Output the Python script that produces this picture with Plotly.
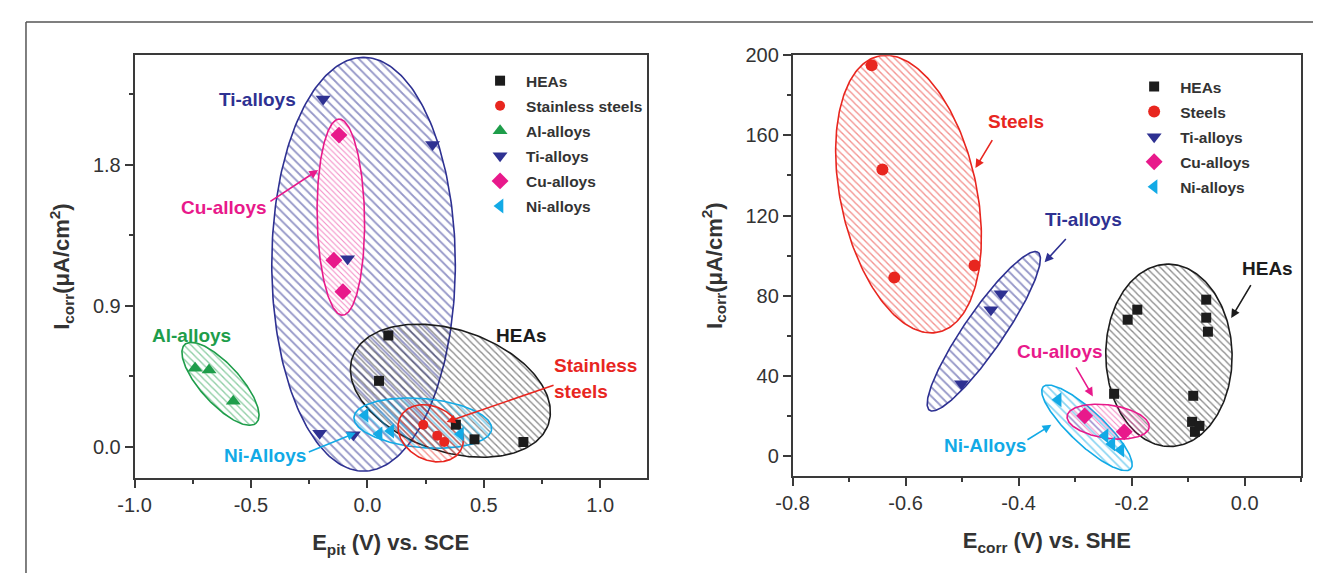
import numpy as np
import plotly.graph_objects as go

OFF = 8  # page body margin: figure is drawn 8 px right/down in the window
W, H = 1321 - 2 * OFF, 581 - 2 * OFF  # figure fits inside the window, no scrolling
FONT = "Liberation Sans, Arial, sans-serif"

# ---------------- data: left panel (E_pit vs SCE) ----------------
left_hea_x = [0.09, 0.05, 0.38, 0.46, 0.67]
left_hea_y = [0.71, 0.42, 0.14, 0.046, 0.03]
left_ss_x = [0.24, 0.30, 0.33]
left_ss_y = [0.14, 0.07, 0.03]
left_al_x = [-0.74, -0.68, -0.576]
left_al_y = [0.50, 0.49, 0.29]
left_ti_x = [-0.19, 0.28, -0.085, -0.205, -0.06]
left_ti_y = [2.22, 1.93, 1.20, 0.085, 0.075]
left_cu_x = [-0.122, -0.144, -0.105]
left_cu_y = [1.99, 1.19, 0.99]
left_ni_x = [-0.01, 0.05, 0.10, 0.40]
left_ni_y = [0.20, 0.08, 0.10, 0.08]

left_xticks = [-1.0, -0.5, 0.0, 0.5, 1.0]
left_xticktext = ["-1.0", "-0.5", "0.0", "0.5", "1.0"]
left_yticks = [0.0, 0.9, 1.8]
left_yticktext = ["0.0", "0.9", "1.8"]

# ---------------- data: right panel (E_corr vs SHE) ----------------
right_hea_x = [-0.190, -0.207, -0.068, -0.068, -0.065, -0.231, -0.091, -0.093, -0.088, -0.080]
right_hea_y = [73, 68, 78, 69, 62, 31, 30, 17, 12, 15]
right_st_x = [-0.660, -0.641, -0.620, -0.478]
right_st_y = [195, 143, 89, 95]
right_ti_x = [-0.431, -0.449, -0.501]
right_ti_y = [81, 73, 36]
right_cu_x = [-0.283, -0.213]
right_cu_y = [20, 12]
right_ni_x = [-0.330, -0.247, -0.235, -0.219]
right_ni_y = [28, 10, 6, 3]

right_xticks = [-0.8, -0.6, -0.4, -0.2, 0.0]
right_xticktext = ["-0.8", "-0.6", "-0.4", "-0.2", "0.0"]
right_yticks = [0, 40, 80, 120, 160, 200]
right_yticktext = ["0", "40", "80", "120", "160", "200"]

# ---------------- styles ----------------
C_HEA = "#1c1c1c"
C_RED = "#e8261f"
C_AL = "#1e9d4a"
C_TI = "#2e3192"
C_CU = "#e8198b"
C_NI = "#12aae6"
AX = "#3a3a3a"

# layout geometry (window pixels, converted to figure pixels with OFF)
L_X0, L_X1, R_X0, R_X1 = 119 - OFF, 638 - OFF, 785.7 - OFF, 1301 - OFF
TOP, L_BOT, R_BOT = 45 - OFF, 476 - OFF, 474 - OFF
LXR, LYR = [-1.0, 1.2], [-0.2, 2.5]
RXR, RYR = [-0.8, 0.1], [-10, 200]
LSX = (L_X1 - L_X0) / (LXR[1] - LXR[0])
LSY = (L_BOT - TOP) / (LYR[1] - LYR[0])
RSX = (R_X1 - R_X0) / (RXR[1] - RXR[0])
RSY = (R_BOT - TOP) / (RYR[1] - RYR[0])


def ellipse(cx, cy, a, b, ang, sx, sy, n=240):
    t = np.linspace(0, 2 * np.pi, n)
    u, v = a * np.cos(t), b * np.sin(t)
    th = np.deg2rad(ang)
    px = u * np.cos(th) - v * np.sin(th)
    py = u * np.sin(th) + v * np.cos(th)
    return cx + px / sx, cy + py / sy


fig = go.Figure()


def add_ell(cx, cy, a, b, ang, color, size, xa, ya, sx, sy, bg="rgba(0,0,0,0)", sol=0.28):
    x, y = ellipse(cx, cy, a, b, ang, sx, sy)
    fig.add_trace(go.Scatter(
        x=x, y=y, mode="lines", fill="toself", xaxis=xa, yaxis=ya,
        line=dict(color=color, width=1.6), fillcolor="rgba(0,0,0,0)",
        fillpattern=dict(shape="\\", fgcolor=color, bgcolor=bg, size=size, solidity=sol),
        showlegend=False, hoverinfo="skip"))


# left ellipses
add_ell(-0.0165, 1.165, 211, 93, 90, C_TI, 6.5, "x", "y", LSX, LSY)
add_ell(0.3565, 0.357, 105, 62, -19, C_HEA, 5, "x", "y", LSX, LSY)
add_ell(0.238, 0.150, 70, 25, -5, C_NI, 6, "x", "y", LSX, LSY)
add_ell(0.272, 0.085, 35, 27, -30, C_RED, 5, "x", "y", LSX, LSY)
add_ell(-0.631, 0.401, 54, 20, -48, C_AL, 5, "x", "y", LSX, LSY)
add_ell(-0.114, 1.466, 100, 24, 91, C_CU, 4, "x", "y", LSX, LSY, bg="white")

# right ellipses
add_ell(-0.5948, 130.7, 144, 69, 102, C_RED, 5, "x2", "y2", RSX, RSY)
add_ell(-0.4616, 62.2, 97.5, 20, 55.7, C_TI, 6.5, "x2", "y2", RSX, RSY)
add_ell(-0.134, 50.2, 93, 64, 91, C_HEA, 5, "x2", "y2", RSX, RSY)
add_ell(-0.279, 14.0, 61, 17, -43.4, C_NI, 6, "x2", "y2", RSX, RSY)
add_ell(-0.2415, 17.1, 42, 17, -8, C_CU, 4, "x2", "y2", RSX, RSY)


def add_pts(x, y, name, sym, color, size, xa, ya, leg):
    fig.add_trace(go.Scatter(
        x=x, y=y, mode="markers", name=name, xaxis=xa, yaxis=ya,
        marker=dict(symbol=sym, color=color, size=size, line=dict(width=0)),
        legend=leg, legendgroup=leg + name))


add_pts(left_hea_x, left_hea_y, "HEAs", "square", C_HEA, 10, "x", "y", "legend")
add_pts(left_ss_x, left_ss_y, "Stainless steels", "circle", C_RED, 10, "x", "y", "legend")
add_pts(left_al_x, left_al_y, "Al-alloys", "triangle-up", C_AL, 13, "x", "y", "legend")
add_pts(left_ti_x, left_ti_y, "Ti-alloys", "triangle-down", C_TI, 13, "x", "y", "legend")
add_pts(left_cu_x, left_cu_y, "Cu-alloys", "diamond", C_CU, 13, "x", "y", "legend")
add_pts(left_ni_x, left_ni_y, "Ni-alloys", "triangle-left", C_NI, 13, "x", "y", "legend")

add_pts(right_hea_x, right_hea_y, "HEAs", "square", C_HEA, 10, "x2", "y2", "legend2")
add_pts(right_st_x, right_st_y, "Steels", "circle", C_RED, 12, "x2", "y2", "legend2")
add_pts(right_ti_x, right_ti_y, "Ti-alloys", "triangle-down", C_TI, 13, "x2", "y2", "legend2")
add_pts(right_cu_x, right_cu_y, "Cu-alloys", "diamond", C_CU, 13, "x2", "y2", "legend2")
add_pts(right_ni_x, right_ni_y, "Ni-alloys", "triangle-left", C_NI, 13, "x2", "y2", "legend2")

# ---------------- labels and arrows ----------------
ann = []


def label(x, y, text, color, xr, yr, xanchor="center"):
    ann.append(dict(x=x, y=y, xref=xr, yref=yr, text=text, showarrow=False, xanchor=xanchor,
                    font=dict(size=19, color=color, family=FONT, weight="bold")))


def arrow(x0, y0, x1, y1, color, xr, yr):
    ann.append(dict(x=x1, y=y1, ax=x0, ay=y0, xref=xr, yref=yr, axref=xr, ayref=yr, text="",
                    showarrow=True, arrowhead=2, arrowsize=1.1, arrowwidth=1.6, arrowcolor=color))


label(-0.470, 2.218, "Ti-alloys", C_TI, "x", "y")
label(-0.614, 1.529, "Cu-alloys", C_CU, "x", "y")
arrow(-0.423, 1.56, -0.2115, 1.767, C_CU, "x", "y")
label(-0.754, 0.708, "Al-alloys", C_AL, "x", "y")
label(-0.440, -0.056, "Ni-Alloys", C_NI, "x", "y")
arrow(-0.258, -0.038, -0.050, 0.088, C_NI, "x", "y")
label(0.662, 0.708, "HEAs", C_HEA, "x", "y")
label(0.793, 0.52, "Stainless", C_RED, "x", "y", xanchor="left")
label(0.793, 0.351, "steels", C_RED, "x", "y", xanchor="left")
arrow(0.806, 0.395, 0.340, 0.157, C_RED, "x", "y")

label(-0.405, 166.7, "Steels", C_RED, "x2", "y2")
arrow(-0.445, 158.4, -0.4764, 143.7, C_RED, "x2", "y2")
label(-0.2843, 117.8, "Ti-alloys", C_TI, "x2", "y2")
arrow(-0.314, 109, -0.354, 96.7, C_TI, "x2", "y2")
label(0.0405, 93.8, "HEAs", C_HEA, "x2", "y2")
arrow(0.0125, 86, -0.0238, 68.8, C_HEA, "x2", "y2")
label(-0.326, 52.2, "Cu-alloys", C_CU, "x2", "y2")
arrow(-0.300, 44.9, -0.2686, 29.7, C_CU, "x2", "y2")
label(-0.459, 5.2, "Ni-Alloys", C_NI, "x2", "y2")
arrow(-0.387, 7.6, -0.342, 15.5, C_NI, "x2", "y2")

tickfont = dict(size=20, color="#333333", family=FONT)
titlefont = dict(size=22, color="#333333", family=FONT, weight="bold")


def axis(dom, rng, tv, tt, minor_dtick, title, standoff, anchor):
    return dict(domain=dom, range=rng, tickmode="array", tickvals=tv, ticktext=tt,
                showline=True, linecolor=AX, linewidth=1.6, mirror=True,
                ticks="outside", ticklen=8, tickwidth=1.5, tickcolor=AX,
                minor=dict(ticks="outside", ticklen=4, tickwidth=1.5, tickcolor=AX,
                           tickmode="linear", tick0=tv[0], dtick=minor_dtick),
                showgrid=False, zeroline=False, tickfont=tickfont,
                title=dict(text=title, font=titlefont, standoff=standoff),
                anchor=anchor, fixedrange=True)


ydl = [1 - L_BOT / H, 1 - TOP / H]
ydr = [1 - R_BOT / H, 1 - TOP / H]
legfont = dict(size=15.5, color="#333333", family=FONT, weight="bold")

fig.update_layout(
    width=W, height=H, autosize=False,
    margin=dict(l=0, r=0, t=0, b=0),
    paper_bgcolor="white", plot_bgcolor="white",
    font=dict(family=FONT, color="#333333"),
    xaxis=axis([L_X0 / W, L_X1 / W], LXR, left_xticks, left_xticktext, 0.25,
               "E<sub>pit</sub> (V) vs. SCE", 20, "y"),
    yaxis=axis(ydl, LYR, left_yticks, left_yticktext, 0.45,
               "I<sub>corr</sub>(μA/cm<sup>2</sup>)", 17, "x"),
    xaxis2=axis([R_X0 / W, R_X1 / W], RXR, right_xticks, right_xticktext, 0.1,
                "E<sub>corr</sub> (V) vs. SHE", 20, "y2"),
    yaxis2=axis(ydr, RYR, right_yticks, right_yticktext, 20,
                "I<sub>corr</sub>(μA/cm<sup>2</sup>)", 17, "x2"),
    legend=dict(x=(489 - 26 - OFF) / W, xanchor="left", y=1 - (54 - OFF) / H, yanchor="top",
                font=legfont, itemwidth=42, bgcolor="rgba(0,0,0,0)", borderwidth=0,
                traceorder="grouped", tracegroupgap=1.9),
    legend2=dict(x=(1151.7 - 26 - OFF) / W, xanchor="left", y=1 - (60 - OFF) / H, yanchor="top",
                 font=legfont, itemwidth=42, bgcolor="rgba(0,0,0,0)", borderwidth=0,
                 traceorder="grouped", tracegroupgap=1.9),
    annotations=ann,
    shapes=[
        dict(type="line", xref="paper", yref="paper", x0=(9 - OFF) / W, x1=1.0,
             y0=1 - (11 - OFF) / H, y1=1 - (11 - OFF) / H, line=dict(color="#555555", width=1.5)),
        dict(type="line", xref="paper", yref="paper", x0=(9 - OFF) / W, x1=(9 - OFF) / W,
             y0=0, y1=1 - (11 - OFF) / H, line=dict(color="#555555", width=1.5)),
    ],
)

fig.write_html("out.html")
